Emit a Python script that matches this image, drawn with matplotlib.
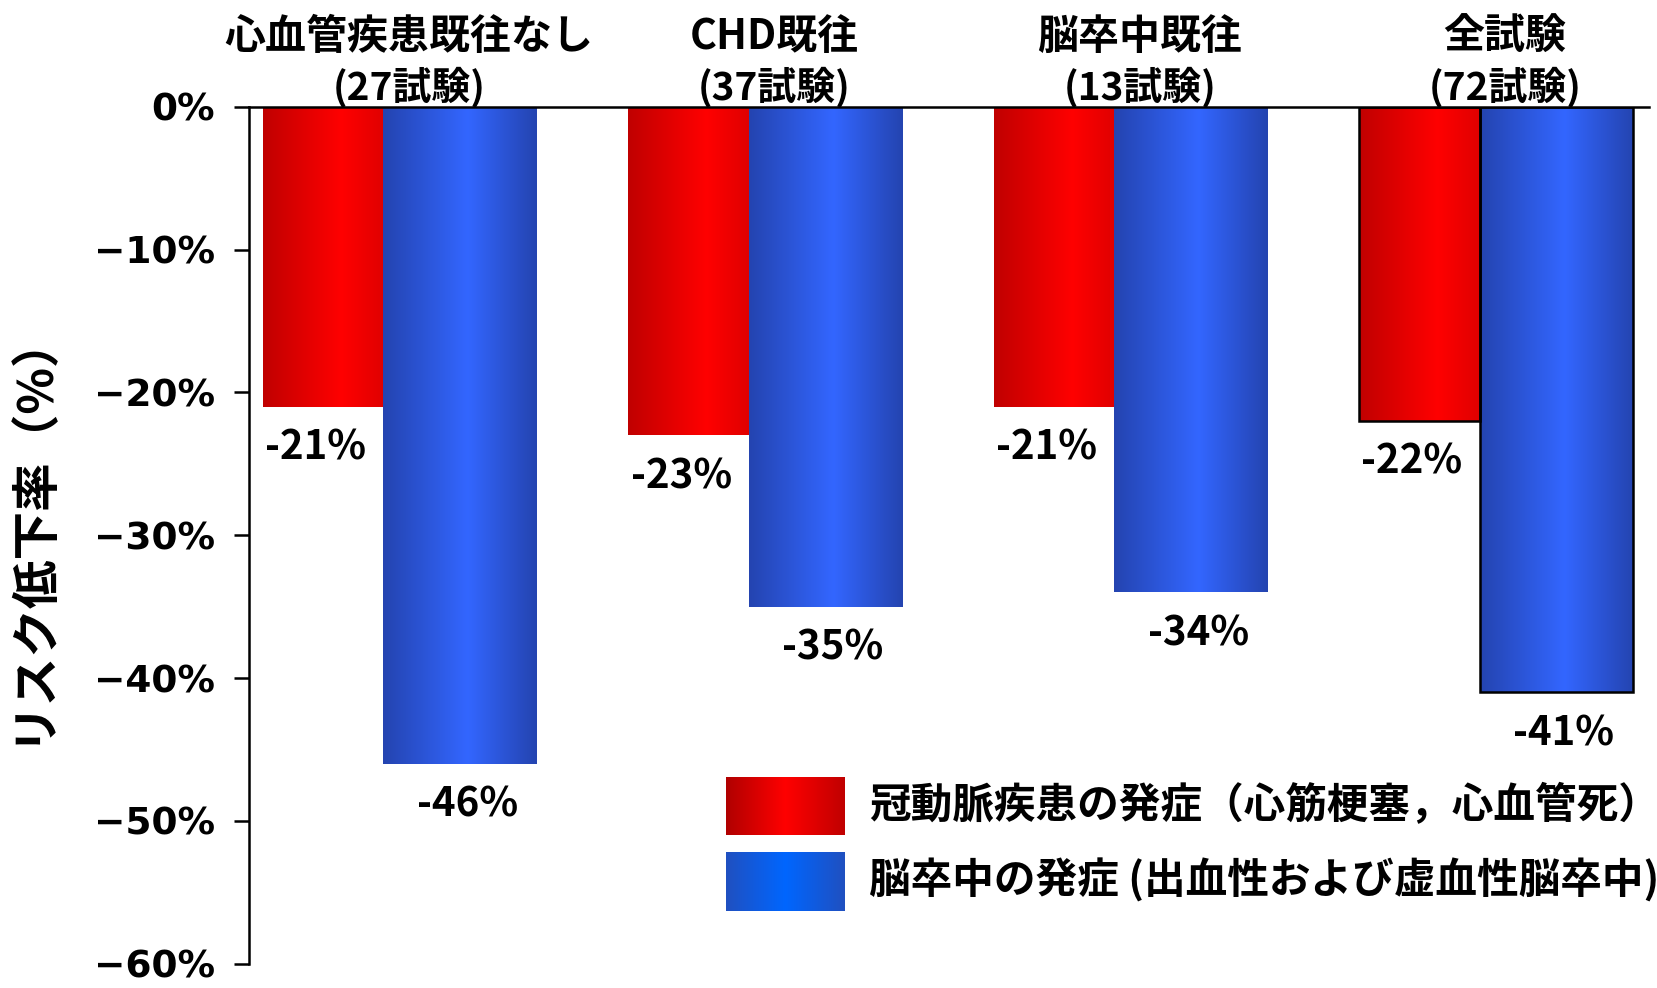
import numpy as np
import matplotlib
matplotlib.use('Agg')
import matplotlib.pyplot as plt
from matplotlib.colors import LinearSegmentedColormap
from matplotlib.ticker import FuncFormatter

plt.rcParams['font.family'] = ['Noto Sans CJK JP', 'DejaVu Sans']

# data
groups = ['心血管疾患既往なし', 'CHD既往', '脳卒中既往', '全試験']
n_trials = [27, 37, 13, 72]
chd_reduction = [-21, -23, -21, -22]
stroke_reduction = [-46, -35, -34, -41]
legend_labels = ['冠動脈疾患の発症（心筋梗塞，心血管死）',
                 '脳卒中の発症 (出血性および虚血性脳卒中)']
y_ticks = [0, -10, -20, -30, -40, -50, -60]

red_cm = LinearSegmentedColormap.from_list('red_bar', [(0, '#c00000'), (0.65, '#ff0000'), (1, '#e00000')])
blue_cm = LinearSegmentedColormap.from_list('blue_bar', [(0, '#2444b0'), (0.55, '#3366ff'), (1, '#2444b0')])
red_leg = LinearSegmentedColormap.from_list('red_leg', [(0, '#b00000'), (0.5, '#ff0000'), (1, '#c00000')])
blue_leg = LinearSegmentedColormap.from_list('blue_leg', [(0, '#2050c0'), (0.5, '#0066ff'), (1, '#2050c0')])
grad = np.linspace(0, 1, 256).reshape(1, -1)

fig = plt.figure(figsize=(16.57, 9.88), dpi=100)
ax = fig.add_axes([0.1505, 0.0245, 0.8445, 0.8675])

x = np.arange(len(groups))
red_w = 0.33
blue_w = 0.42
edge_cols = ['none', 'none', 'none', 'black']


def gradient_bars(bars, cmap):
    for bar, ec in zip(bars, edge_cols):
        x0, y0 = bar.get_x(), bar.get_y()
        w, h = bar.get_width(), bar.get_height()
        im = ax.imshow(grad, cmap=cmap, aspect='auto', zorder=2,
                       extent=[x0, x0 + w, y0, y0 + h])
        im.set_clip_path(bar)
        bar.set_edgecolor(ec)
        bar.set_linewidth(1.8)
        bar.set_zorder(3)


red_bars = ax.bar(x - red_w / 2, chd_reduction, width=red_w, color='none')
blue_bars = ax.bar(x + blue_w / 2, stroke_reduction, width=blue_w, color='none')
gradient_bars(red_bars, red_cm)
gradient_bars(blue_bars, blue_cm)

# value labels
for i in range(len(groups)):
    ax.text(x[i] - red_w / 2 - 0.02, chd_reduction[i] - 2.9, f'-{abs(chd_reduction[i])}%',
            ha='center', va='center', fontsize=29, fontweight='bold')
    ax.text(x[i] + blue_w / 2 + 0.02, stroke_reduction[i] - 2.9, f'-{abs(stroke_reduction[i])}%',
            ha='center', va='center', fontsize=29, fontweight='bold')

# group titles above the zero line
tr = ax.get_xaxis_transform()
for i, g in enumerate(groups):
    ax.text(x[i] + 0.07, 1.081, g, transform=tr, ha='center', va='center',
            fontsize=29.5, fontweight='bold', clip_on=False)
    ax.text(x[i] + 0.07, 1.023, f'({n_trials[i]}試験)', transform=tr, ha='center', va='center',
            fontsize=28, fontweight='bold', clip_on=False)

ax.set_xlim(-0.367, 3.463)
ax.set_ylim(-60, 0)
ax.set_yticks(y_ticks)
ax.yaxis.set_major_formatter(FuncFormatter(lambda v, p: f'{int(v)}%'.replace('-', '\u2212')))
for lbl in ax.get_yticklabels():
    lbl.set_fontfamily('DejaVu Sans')
    lbl.set_fontweight('bold')
    lbl.set_fontsize(27)
ax.tick_params(axis='y', direction='out', length=11, width=1.8, pad=14)
ax.set_xticks([])
ax.spines['right'].set_visible(False)
ax.spines['bottom'].set_visible(False)
ax.spines['left'].set_linewidth(1.8)
ax.spines['top'].set_linewidth(1.8)

ax.set_ylabel('リスク低下率（%）', fontsize=35, fontweight='bold')
ax.yaxis.set_label_coords(-0.139, 0.51)

# legend with gradient swatches
swatches = [(red_leg, [0.3406, 0.1503, 0.085, 0.0677], 0.1843),
            (blue_leg, [0.3406, 0.0616, 0.085, 0.0688], 0.0966)]
for (cm, bounds, ty), label in zip(swatches, legend_labels):
    sw = ax.inset_axes(bounds)
    sw.imshow(grad, cmap=cm, aspect='auto')
    sw.axis('off')
    ax.text(0.4428, ty, label, transform=ax.transAxes, ha='left', va='center',
            fontsize=30, fontweight='bold')

fig.savefig('out.png', dpi=100)
